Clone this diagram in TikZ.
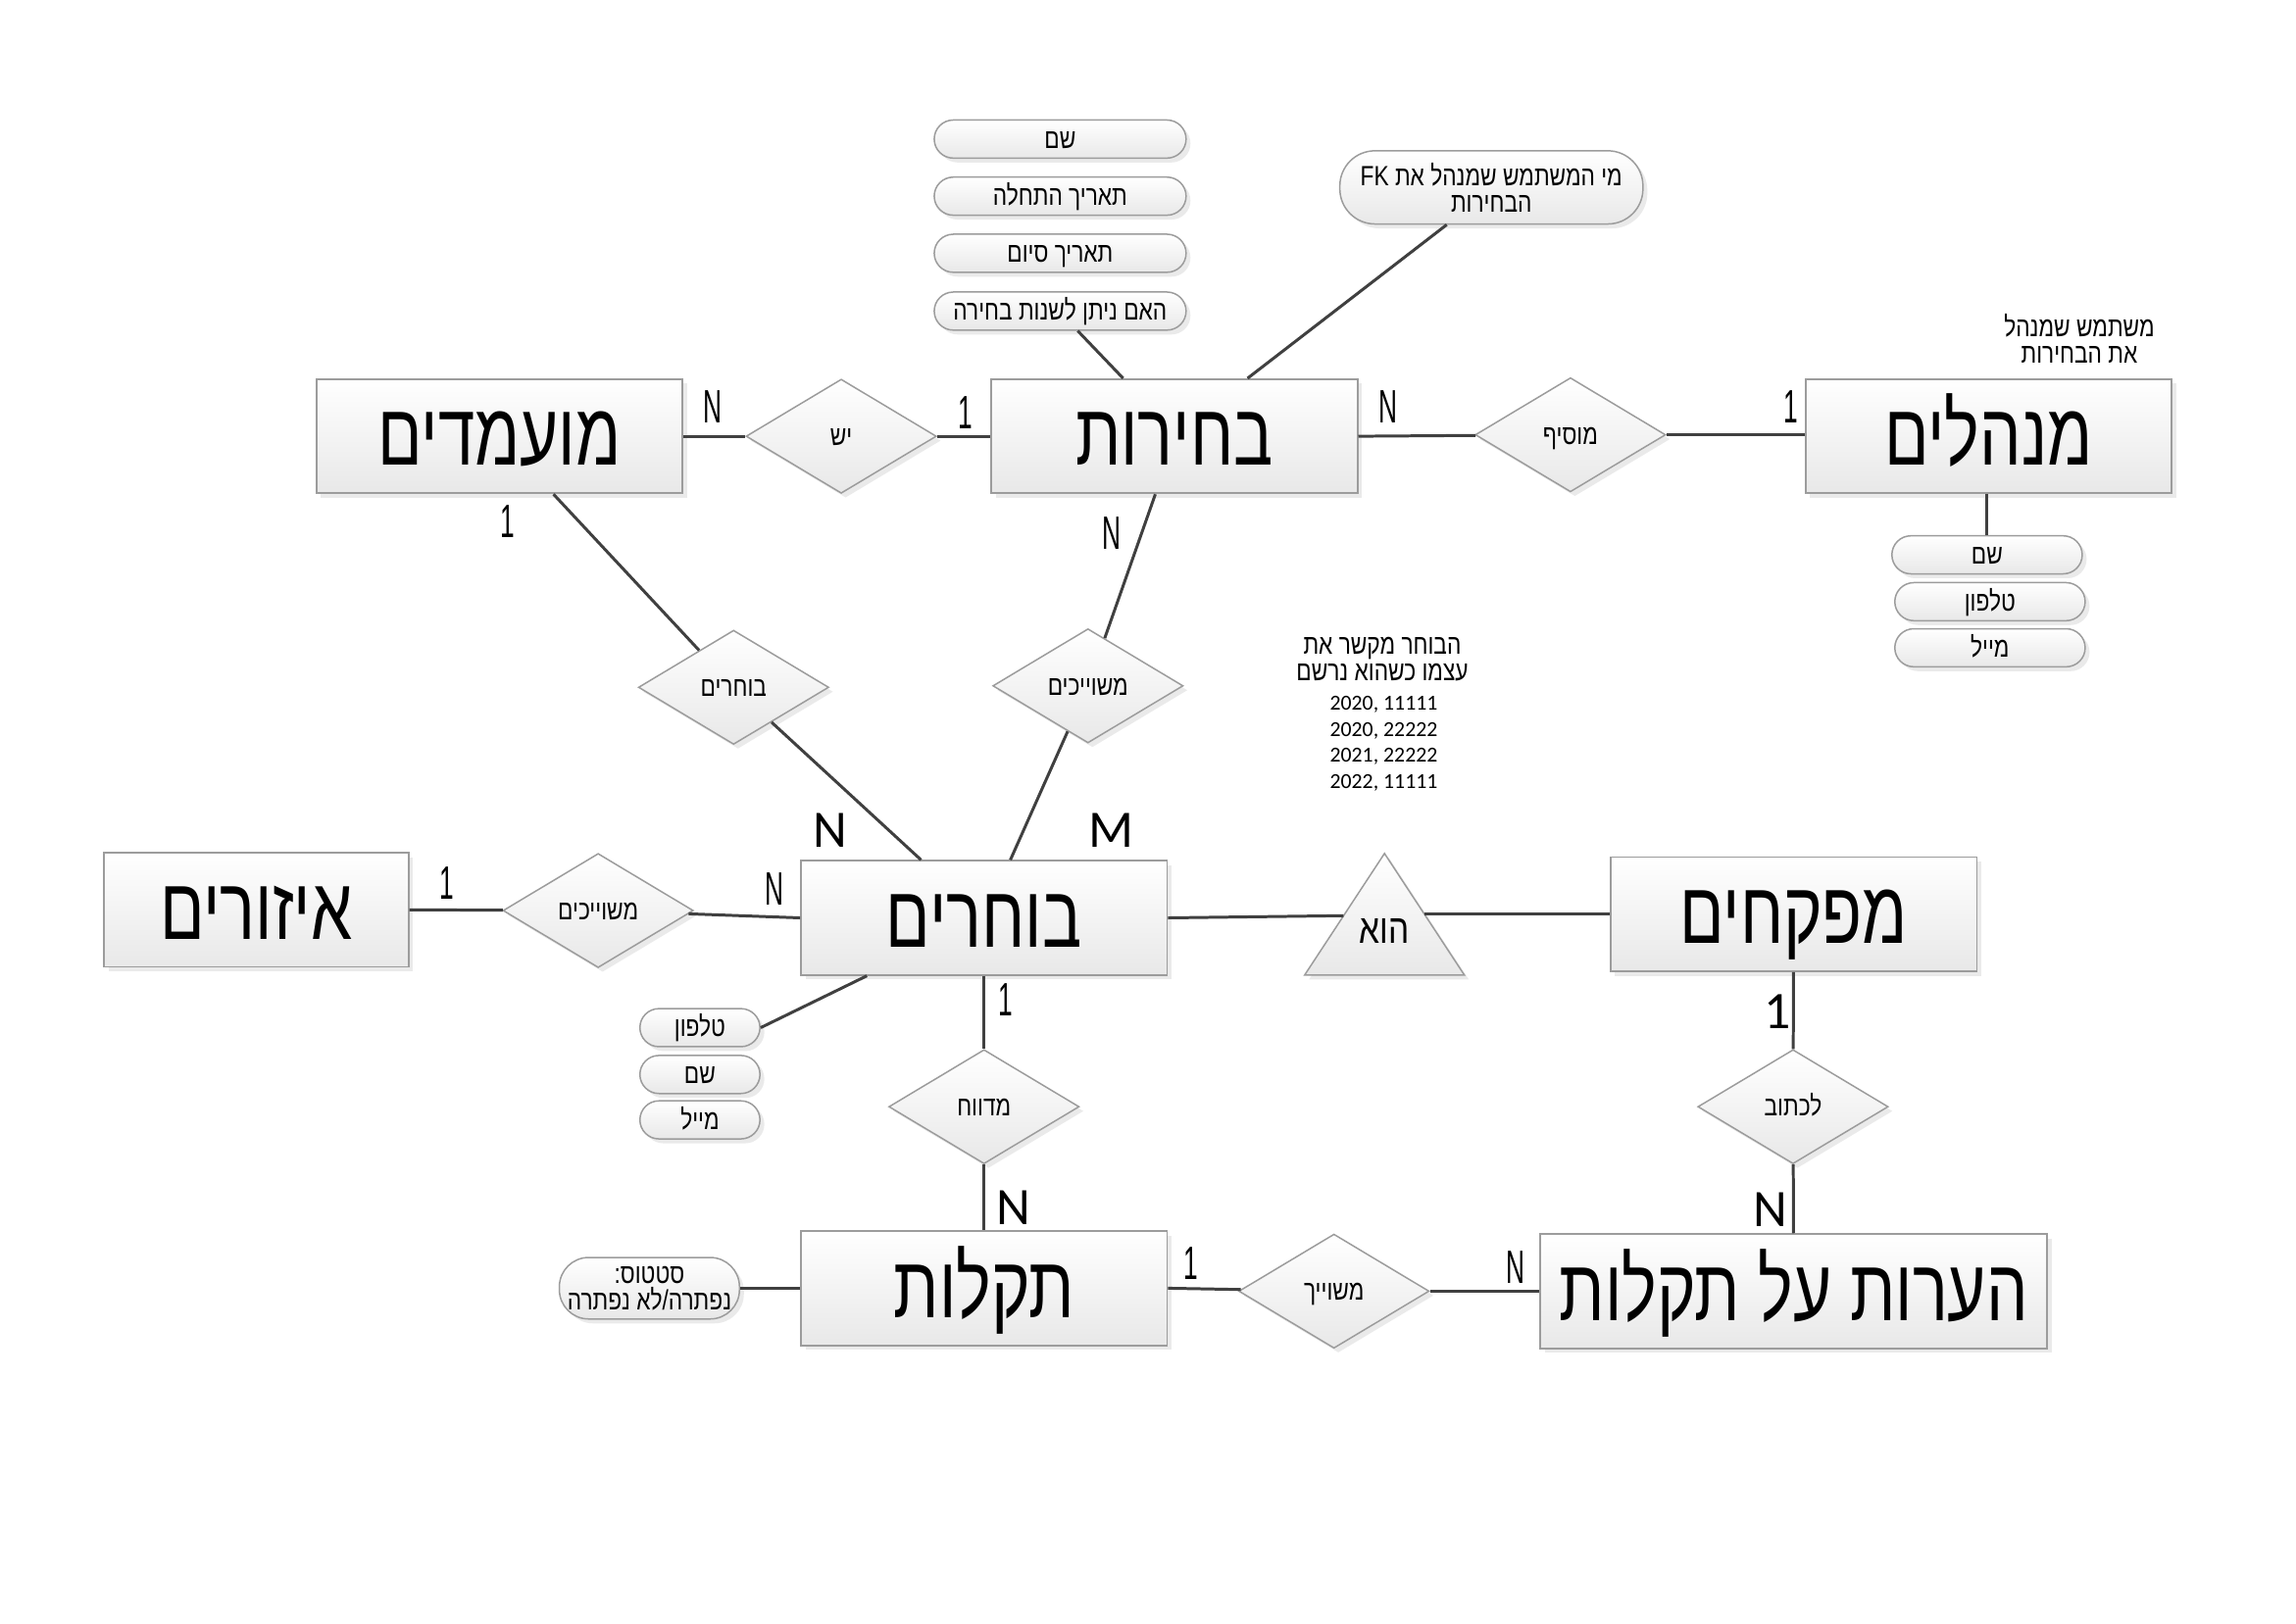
\documentclass[tikz,border=0pt]{standalone}
\usepackage{fontspec}
\usetikzlibrary{shapes.geometric,shadows}
\newfontfamily\heb[Script=Hebrew,FakeStretch=0.8]{Liberation Sans}
\newfontfamily\hebent[Script=Hebrew,FakeStretch=0.75]{Liberation Sans}
\newfontfamily\cardf[FakeStretch=0.55]{Liberation Sans}
\newfontfamily\numf{Carlito}
\TeXXeTstate=1
\newcommand\RL[1]{\beginR #1\endR}
\definecolor{bord}{HTML}{9C9C9C}
\definecolor{linec}{HTML}{404040}
\tikzset{
  shad/.style={drop shadow={shadow xshift=1.5pt,shadow yshift=-1.5pt,fill=black!16}},
  ent/.style={rectangle,draw=bord,line width=0.6pt,top color=white,bottom color=black!9,shad,
    minimum width=125pt,minimum height=39pt,inner sep=0pt,text height=20pt,text depth=0pt,
    font=\hebent\fontsize{30}{36}\selectfont},
  rel/.style={diamond,draw=bord,line width=0.5pt,top color=white,bottom color=black!9,shad,
    minimum width=65pt,minimum height=39pt,inner sep=0pt,text height=6.3pt,text depth=0pt,
    font=\heb\fontsize{9.5}{11}\selectfont},
  attrbase/.style={rectangle,rounded corners=6.5pt,draw=bord,line width=0.5pt,top color=white,bottom color=black!9,shad,
    minimum height=13pt,inner sep=0pt,font=\heb\fontsize{9.5}{9}\selectfont},
  attr/.style={attrbase,text height=6.3pt,text depth=0pt},
  card/.style={font=\cardf\fontsize{16}{18}\selectfont,inner sep=0pt},
  cardc/.style={font=\numf\fontsize{18}{20}\selectfont,inner sep=0pt},
  note/.style={font=\heb\fontsize{9.5}{9}\selectfont,align=center,inner sep=0pt},
  conn/.style={draw=linec,line width=1pt},
}
\begin{document}
\begin{tikzpicture}[x=0.5pt,y=-0.5pt]
\fill[white] (0,0) rectangle (1568,1109);
\useasboundingbox (0,0) rectangle (1568,1109);
% entities
\node[ent] (moam) at (341,298) {\RL{מועמדים}};
\node[ent] (bch) at (802,298) {\RL{בחירות}};
\node[ent] (men) at (1358,298) {\RL{מנהלים}};
\node[ent,minimum width=104pt] (ezor) at (175,621.5) {\RL{איזורים}};
\node[ent] (boch) at (672,627) {\RL{בוחרים}};
\node[ent] (mefa) at (1225,624.5) {\RL{מפקחים}};
\node[ent] (takl) at (672,880) {\RL{תקלות}};
\node[ent,minimum width=173pt] (hear) at (1225,882) {\RL{הערות על תקלות}};
% relations
\node[rel] (rYesh) at (574.5,298) {\RL{יש}};
\node[rel] (rMosif) at (1072.5,297) {\RL{מוסיף}};
\node[rel] (rBoch) at (501,469.5) {\RL{בוחרים}};
\node[rel] (rMesh1) at (743,468.5) {\RL{משוייכים}};
\node[rel] (rMesh2) at (408.5,622) {\RL{משוייכים}};
\node[rel] (rMedv) at (672,756) {\RL{מדווח}};
\node[rel] (rLiktov) at (1224.5,756) {\RL{לכתוב}};
\node[rel] (rMeshuyach) at (911,882) {\RL{משוייך}};
% isa triangle
\path[draw=bord,line width=0.5pt,top color=white,bottom color=black!9,shad]
  (945.5,583) -- (1000,666) -- (891,666) -- cycle;
\node[font=\heb\fontsize{14}{16}\selectfont,inner sep=0pt] (hu) at (945.5,636) {\RL{הוא}};
\coordinate (triL) at (917.5,625.5);
\coordinate (triR) at (973,624.5);
% attributes
\node[attr,minimum width=86pt] (aShem) at (724,95) {\RL{שם}};
\node[attr,minimum width=86pt] (aStart) at (724,134) {\RL{תאריך התחלה}};
\node[attr,minimum width=86pt] (aEnd) at (724,173) {\RL{תאריך סיום}};
\node[attr,minimum width=86pt] (aChange) at (724,212.5) {\RL{האם ניתן לשנות בחירה}};
\node[attrbase,minimum width=103.5pt,minimum height=25pt,rounded corners=12pt,align=center] (aFK) at (1018.5,128)
      {\RL{מי המשתמש שמנהל את \beginL FK\endL}\\\RL{הבחירות}};
\node[attr,minimum width=65pt] (mShem) at (1357,379) {\RL{שם}};
\node[attr,minimum width=65pt] (mTel) at (1359,411) {\RL{טלפון}};
\node[attr,minimum width=65pt] (mMail) at (1359,442.5) {\RL{מייל}};
\node[attr,minimum width=41pt] (bTel) at (478,702) {\RL{טלפון}};
\node[attr,minimum width=41pt] (bShem) at (478,734) {\RL{שם}};
\node[attr,minimum width=41pt] (bMail) at (478,765) {\RL{מייל}};
\node[attrbase,minimum width=61.5pt,minimum height=21pt,rounded corners=10pt,align=center] (aStatus) at (443.5,880)
      {\RL{סטטוס:}\\\RL{נפתרה/לא נפתרה}};
% notes
\node[note] (nMen) at (1420,231) {\RL{משתמש שמנהל}\\\RL{את הבחירות}};
\node[note] (nBoch) at (944,450) {\RL{הבוחר מקשר את}\\\RL{עצמו כשהוא נרשם}};
\node[font=\numf\fontsize{7.3}{9}\selectfont,align=center,inner sep=0pt] (nNums) at (945,508)
  {2020, 11111\\2020, 22222\\2021, 22222\\2022, 11111};
% connectors
\draw[conn] (moam) -- (rYesh);
\draw[conn] (rYesh) -- (bch);
\draw[conn] (bch.east) -- (rMosif);
\draw[conn] (rMosif) -- (men.west |- rMosif);
\draw[conn] (moam.south -| 378,0) -- (rBoch);
\draw[conn] (rBoch) -- (boch.north -| 629,0);
\draw[conn] (bch.south -| 789,0) -- (rMesh1);
\draw[conn] (rMesh1) -- (boch.north -| 690,0);
\draw[conn] (ezor.east) -- (rMesh2);
\draw[conn] (rMesh2) -- (boch.west);
\draw[conn] (boch.east) -- (triL);
\draw[conn] (triR) -- (mefa.west);
\draw[conn] (boch) -- (rMedv);
\draw[conn] (rMedv) -- (takl);
\draw[conn] (mefa) -- (rLiktov);
\draw[conn] (rLiktov) -- (hear);
\draw[conn] (takl.east) -- (rMeshuyach);
\draw[conn] (rMeshuyach) -- (hear.west);
\draw[conn] (boch.south -| 592,0) -- (bTel.east);
\draw[conn] (takl.west) -- (aStatus.east);
\draw[conn] (bch.north -| 767,0) -- (aChange.south -| 736,0);
\draw[conn] (bch.north -| 852,0) -- (aFK.south -| 988,0);
\draw[conn] (men.south -| 1357,0) -- (mShem.north);
% cardinalities
\node[card] (c1) at (487,278) {N};
\node[card] (c2) at (659,282) {1};
\node[card] (c3) at (948,278) {N};
\node[card] (c4) at (1223,278) {1};
\node[card] (c5) at (347,356) {1};
\node[card] (c6) at (759,364) {N};
\node[cardc] (c7) at (567,567) {N};
\node[cardc] (c8) at (759,567) {M};
\node[card] (c9) at (305,603) {1};
\node[card] (c10) at (529,607) {N};
\node[card] (c11) at (687,683) {1};
\node[cardc] (c12) at (692,825) {N};
\node[cardc] (c13) at (1214,691) {1};
\node[cardc] (c14) at (1209,826) {N};
\node[card] (c15) at (813,863) {1};
\node[card] (c16) at (1035,866) {N};
\end{tikzpicture}
\end{document}
